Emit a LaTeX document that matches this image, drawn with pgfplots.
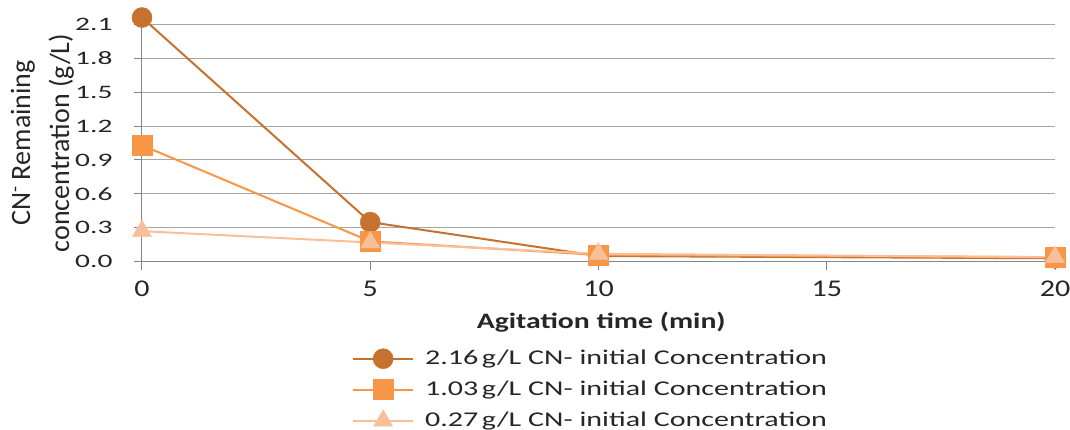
\documentclass[border=0pt]{standalone}
\usepackage{fontspec}
\setmainfont{Carlito}
\newfontfamily\stretchfont{Carlito}[FakeStretch=1.35]
\newfontfamily\xtickfont{Carlito}[FakeStretch=1.25]
\newfontfamily\legfont{Carlito}[FakeStretch=1.43]
\newfontfamily\ytickfont{Carlito}[FakeStretch=1.55]
\usepackage{pgfplots}
\pgfplotsset{compat=1.18}
\definecolor{cA}{HTML}{C5722F}
\definecolor{cB}{HTML}{F79646}
\definecolor{cC}{HTML}{F9BF9B}
\definecolor{axisgray}{HTML}{868686}
\definecolor{gridgray}{HTML}{A6A6A6}
\definecolor{txt}{HTML}{262626}
\begin{document}
\begin{tikzpicture}
\path[use as bounding box] (-142pt,-168.3pt) rectangle (928pt,261.7pt);
\begin{axis}[
  at={(0pt,0pt)}, anchor=south west,
  scale only axis, width=913pt, height=237.4pt,
  xmin=0, xmax=20, ymin=0, ymax=2.1,
  xtick={0,5,10,15,20},
  ytick={0,0.3,0.6,0.9,1.2,1.5,1.8,2.1},
  axis lines*=left,
  axis line style={draw=axisgray, line width=1pt, -},
  tick style={draw=axisgray, line width=1pt},
  tick align=outside, major tick length=8pt,
  ymajorgrids, grid style={draw=gridgray, line width=1pt},
  clip=false,
  /pgf/number format/assume math mode=true,
  yticklabel style={/pgf/number format/fixed, /pgf/number format/fixed zerofill,
    /pgf/number format/precision=1, xshift=-18pt,
    font=\ytickfont\fontsize{19}{21}\selectfont, text=txt},
  xticklabel style={font=\xtickfont\fontsize{24}{26}\selectfont, text=txt, yshift=-8pt},
  xlabel={\textbf{Agitation time (min)}},
  xlabel style={at={(axis description cs:0.503,-0.253)}, anchor=center,
    font=\stretchfont\fontsize{22}{24}\selectfont, text=txt},
  ylabel={CN\textsuperscript{-} Remaining\\concentration (g/L)},
  ylabel style={at={(axis description cs:-0.109,0.5)}, anchor=center,
    align=center, font=\fontsize{28}{39}\selectfont, text=txt},
  legend style={draw=none, fill=none, at={(axis description cs:0.230,-0.351)},
    anchor=north west, inner sep=0pt, row sep=4pt,
    font=\legfont\fontsize{21}{24}\selectfont, text=txt,
    nodes={inner xsep=0pt, inner ysep=3pt, text height=16pt, text depth=5pt},
    /tikz/every odd column/.append style={column sep=11pt}},
  legend cell align=left,
  legend image code/.code={
    \draw[#1, mark repeat=2, mark phase=2] plot coordinates {(0pt,0pt) (30pt,0pt) (60pt,0pt)};
  },
]
\addplot[color=cA, line width=2pt, mark=*, mark size=10pt,
  mark options={solid, fill=cA, draw=cA, line width=0.5pt}]
  coordinates {(0,2.16) (5,0.35) (10,0.05) (20,0.03)};
\addlegendentry{2.16\,g/L CN- initial Concentration}
\addplot[color=cB, line width=2pt, mark=square*, mark size=10pt,
  mark options={solid, fill=cB, draw=cB, line width=0.5pt}]
  coordinates {(0,1.03) (5,0.18) (10,0.06) (20,0.04)};
\addlegendentry{1.03\,g/L CN- initial Concentration}
\addplot[color=cC, line width=2pt, mark=triangle*, mark size=11pt,
  mark options={solid, fill=cC, draw=cC, line width=0.5pt}]
  coordinates {(0,0.27) (5,0.17) (10,0.07) (20,0.04)};
\addlegendentry{0.27\,g/L CN- initial Concentration}
\end{axis}
\end{tikzpicture}
\end{document}
